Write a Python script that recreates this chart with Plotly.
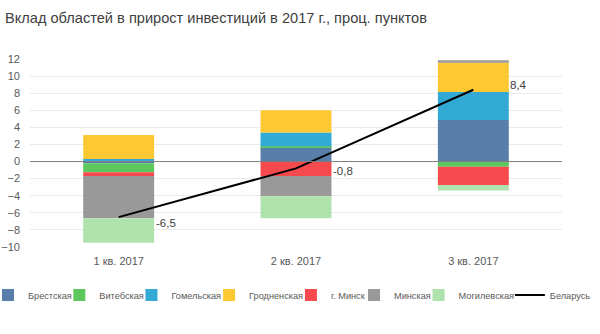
import plotly.graph_objects as go

# ---------------- data ----------------
categories = ["1 кв. 2017", "2 кв. 2017", "3 кв. 2017"]
brestskaya = [-0.2, 1.7, 4.85]
vitebskaya = [-1.05, 0.1, -0.6]
gomelskaya = [0.3, 1.6, 3.3]
grodnenskaya = [2.8, 2.6, 3.4]
minsk_city = [-0.45, -1.7, -2.15]
minskaya = [-4.95, -2.35, 0.3]
mogilevskaya = [-2.85, -2.6, -0.65]
belarus = [-6.5, -0.8, 8.4]
y_ticks = [-10, -8, -6, -4, -2, 0, 2, 4, 6, 8, 10, 12]

series_names = ["Брестская", "Витебская", "Гомельская", "Гродненская",
                "г. Минск", "Минская", "Могилевская"]
series_values = [brestskaya, vitebskaya, gomelskaya, grodnenskaya,
                 minsk_city, minskaya, mogilevskaya]
line_name = "Беларусь"

# ---------------- style ----------------
colors = ["#5A7EAA", "#5CC85E", "#33A9D5", "#FDC831",
          "#F64A4E", "#999999", "#B0E2AD"]
FONT = "Liberation Sans, Arial, sans-serif"
TXT = "#595959"
LEG_SIZE = 9.2

# legend layout (px): estimated text widths of the 8 entries (em units)
leg_text_em = [4.55, 4.63, 5.23, 5.69, 3.65, 3.81, 5.74, 4.23]
leg_text_px = [e * LEG_SIZE for e in leg_text_em]
GAP = 3.5                    # text end -> next bar symbol
GAP_LINE = 3.5               # text end -> line symbol
PLOT_L, PLOT_W = 30, 532
first_item_x = -12
groups = ["legend"] * 6 + ["legend2"] * 2
leg_w = []
for i, w in enumerate(leg_text_px):
    last_in_group = (i == len(leg_text_px) - 1) or groups[i + 1] != groups[i]
    if last_in_group:
        leg_w.append(w + 6)
    elif i == 6:
        leg_w.append(w + GAP_LINE - 10)
    else:
        leg_w.append(w + GAP - 19)
item_x = [first_item_x]
for i, w in enumerate(leg_text_px[:-1]):
    step = (w + 35 + GAP_LINE) if i == 6 else (w + 26 + GAP)
    item_x.append(item_x[-1] + step)
legend1_x = (item_x[0] - PLOT_L) / PLOT_W
legend2_x = (item_x[6] - PLOT_L) / PLOT_W

label_dy = [-6, -3, 5]

fig = go.Figure()
for i, (name, vals) in enumerate(zip(series_names, series_values)):
    fig.add_trace(go.Bar(
        x=categories, y=vals, name=name,
        marker=dict(color=colors[i], line=dict(width=0)),
        legend=groups[i], legendwidth=leg_w[i],
    ))

fig.add_trace(go.Scatter(
    x=categories, y=belarus, name=line_name, mode="lines",
    line=dict(color="black", width=2),
    legend=groups[7], legendwidth=leg_w[7],
))

for i, v in enumerate(belarus):
    fig.add_annotation(
        x=categories[i], y=v, text=f"{v:.1f}".replace(".", ","),
        showarrow=False, xanchor="left", yanchor="middle",
        xshift=35, yshift=label_dy[i],
        font=dict(family=FONT, size=11.5, color="#404040"),
    )

# zero line drawn above the bars, as in the original
fig.add_hline(y=0, line=dict(color="#7F7F7F", width=1), layer="above")

legend_common = dict(
    orientation="h", xanchor="left", y=-0.1785, yanchor="top",
    font=dict(family=FONT, size=LEG_SIZE, color=TXT),
    bgcolor="rgba(0,0,0,0)", traceorder="normal",
)

fig.update_layout(
    width=600, height=334,
    margin=dict(l=PLOT_L, r=600 - PLOT_L - PLOT_W, t=59, b=87, autoexpand=False),
    paper_bgcolor="white", plot_bgcolor="white",
    barmode="relative", bargap=0.6,
    font=dict(family=FONT, color=TXT),
    title=dict(
        text="Вклад областей в прирост инвестиций в 2017 г., проц. пунктов",
        x=5 / 600, xanchor="left", xref="container",
        y=1 - 18 / 334, yanchor="middle", yref="container",
        font=dict(family=FONT, size=14.6, color="#404040"),
    ),
    showlegend=True,
    legend=dict(x=legend1_x, **legend_common),
    legend2=dict(x=legend2_x, **legend_common),
    xaxis=dict(
        showgrid=False, showline=False, zeroline=False, ticks="",
        tickfont=dict(family=FONT, size=11, color=TXT),
        ticklabelstandoff=6,
    ),
    yaxis=dict(
        range=[-10, 12], tickvals=y_ticks,
        showgrid=True, gridcolor="#EBEBEB", gridwidth=1,
        zeroline=False,
        showline=False, ticks="",
        tickfont=dict(family=FONT, size=11, color=TXT),
        ticklabelstandoff=9,
    ),
)

fig.write_html("out.html")
